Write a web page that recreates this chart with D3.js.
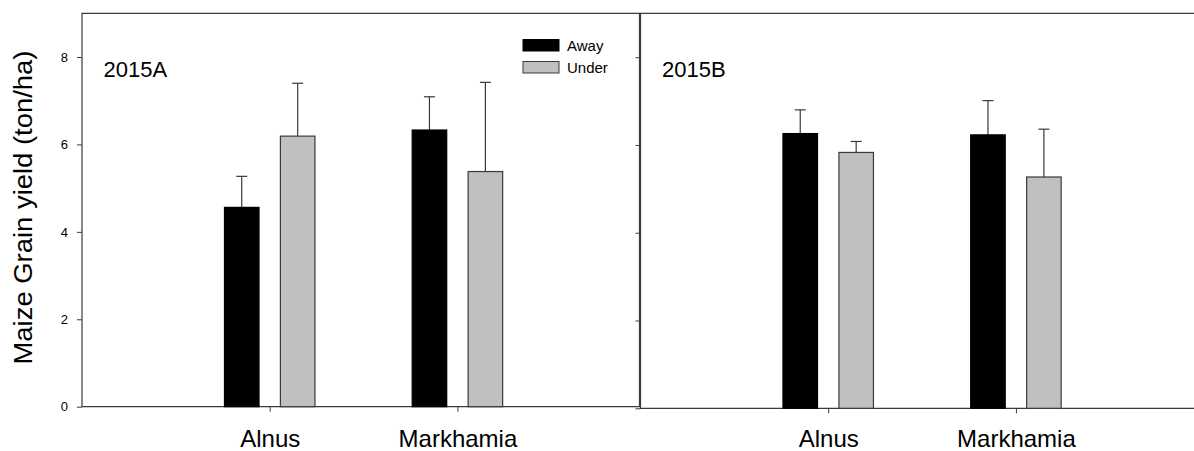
<!DOCTYPE html>
<html>
<head>
<meta charset="utf-8">
<script src="https://cdn.jsdelivr.net/npm/d3@7"></script>
<style>
  html, body { margin: 0; padding: 0; background: #fff; }
  svg { display: block; font-family: Arial, "Liberation Sans", sans-serif; }
</style>
</head>
<body>
<svg id="chart" width="1194" height="451"></svg>
<script>
// Tree species and treatments
const categories = ["Alnus", "Markhamia"];
const treatments = ["Away", "Under"];
const yTicks = [0, 2, 4, 6, 8];

// Maize grain yield (ton/ha), season 2015A
const meanA_away  = [4.56, 6.33];
const meanA_under = [6.19, 5.38];
const errA_away   = [0.71, 0.76];
const errA_under  = [1.21, 2.04];

// Maize grain yield (ton/ha), season 2015B
const meanB_away  = [6.26, 6.23];
const meanB_under = [5.83, 5.27];
const errB_away   = [0.54, 0.78];
const errB_under  = [0.25, 1.09];

const panels = [
  { label: "2015A", away: meanA_away, under: meanA_under, eAway: errA_away, eUnder: errA_under,
    left: 82, right: 639.5, top: 13.3, bottom: 406.7, tickLabels: true, legend: true, closeRight: true,
    labelPad: 18 },
  { label: "2015B", away: meanB_away, under: meanB_under, eAway: errB_away, eUnder: errB_under,
    left: 640.5, right: 1198, top: 13.3, bottom: 408.3, tickLabels: false, legend: false, closeRight: false,
    labelPad: 16.4 }
];

const fills = { Away: "#000000", Under: "#c0c0c0" };
const lineColor = "#3a3a3a";
const barHalfGap = 0.057;   // data units between category centre and bar edge
const barWidth = 0.184;     // data units

const svg = d3.select("#chart");

// y-axis title
svg.append("text")
  .attr("transform", "translate(32,207.5) rotate(-90)")
  .attr("text-anchor", "middle")
  .attr("font-size", 25)
  .attr("textLength", 314)
  .attr("lengthAdjust", "spacingAndGlyphs")
  .attr("fill", "#000")
  .text("Maize Grain yield (ton/ha)");

panels.forEach(p => {
  const x = d3.scaleLinear().domain([0, 2.97]).range([p.left, p.right]);
  const y = d3.scaleLinear().domain([0, 9]).range([p.bottom, p.top]);
  const g = svg.append("g");

  // frame
  const frame = g.append("path")
    .attr("fill", "none")
    .attr("stroke", lineColor)
    .attr("stroke-width", 1.2);
  if (p.closeRight) {
    frame.attr("d", `M${p.left},${p.top}H${p.right}V${p.bottom}H${p.left}Z`);
  } else {
    frame.attr("d", `M${p.right},${p.top}H${p.left}V${p.bottom}H${p.right}`);
  }

  // y axis
  const yAxis = d3.axisLeft(y).tickValues(yTicks).tickSize(5).tickPadding(9);
  if (!p.tickLabels) yAxis.tickFormat("");
  const ya = g.append("g").attr("transform", `translate(${p.left},0)`).call(yAxis);
  ya.select(".domain").remove();
  ya.selectAll("line").attr("stroke", lineColor);
  ya.selectAll("text").attr("font-size", 13).attr("fill", "#000")
    .attr("font-family", "Arial, 'Liberation Sans', sans-serif");

  // x axis
  const xAxis = d3.axisBottom(x).tickValues([1, 2]).tickSize(5).tickPadding(p.labelPad)
    .tickFormat(d => categories[d - 1]);
  const xa = g.append("g").attr("transform", `translate(0,${p.bottom})`).call(xAxis);
  xa.select(".domain").remove();
  xa.selectAll("line").attr("stroke", lineColor);
  xa.selectAll("text").attr("font-size", 24).attr("fill", "#000")
    .attr("font-family", "Arial, 'Liberation Sans', sans-serif");

  // bars with upper error bars
  const rows = [];
  categories.forEach((c, i) => {
    rows.push({ t: "Away",  pos: i + 1 - barHalfGap - barWidth, v: p.away[i],  e: p.eAway[i] });
    rows.push({ t: "Under", pos: i + 1 + barHalfGap,            v: p.under[i], e: p.eUnder[i] });
  });

  const bars = g.append("g");
  rows.forEach(r => {
    const x0 = x(r.pos), x1 = x(r.pos + barWidth), cx = (x0 + x1) / 2;
    bars.append("line")
      .attr("x1", cx).attr("x2", cx)
      .attr("y1", y(r.v)).attr("y2", y(r.v + r.e))
      .attr("stroke", lineColor).attr("stroke-width", 1.2);
    bars.append("line")
      .attr("x1", cx - 5.5).attr("x2", cx + 5.5)
      .attr("y1", y(r.v + r.e)).attr("y2", y(r.v + r.e))
      .attr("stroke", lineColor).attr("stroke-width", 1.2);
    bars.append("rect")
      .attr("x", x0).attr("y", y(r.v))
      .attr("width", x1 - x0).attr("height", y(0) - y(r.v))
      .attr("fill", fills[r.t])
      .attr("stroke", r.t === "Away" ? "#000" : lineColor)
      .attr("stroke-width", 1.2);
  });

  // panel label
  g.append("text")
    .attr("x", p.left + 21.5).attr("y", 77.3)
    .attr("font-size", 22).attr("fill", "#000")
    .text(p.label);

  // legend
  if (p.legend) {
    const lg = g.append("g").attr("transform", "translate(523,39.5)");
    treatments.forEach((t, i) => {
      lg.append("rect")
        .attr("x", 0).attr("y", i * 22)
        .attr("width", 36).attr("height", 11.5)
        .attr("fill", fills[t])
        .attr("stroke", t === "Away" ? "#000" : lineColor)
        .attr("stroke-width", 1);
      lg.append("text")
        .attr("x", 44).attr("y", i * 22 + 6)
        .attr("dominant-baseline", "central")
        .attr("font-size", 15).attr("fill", "#000")
        .text(t);
    });
  }
});
</script>
</body>
</html>
